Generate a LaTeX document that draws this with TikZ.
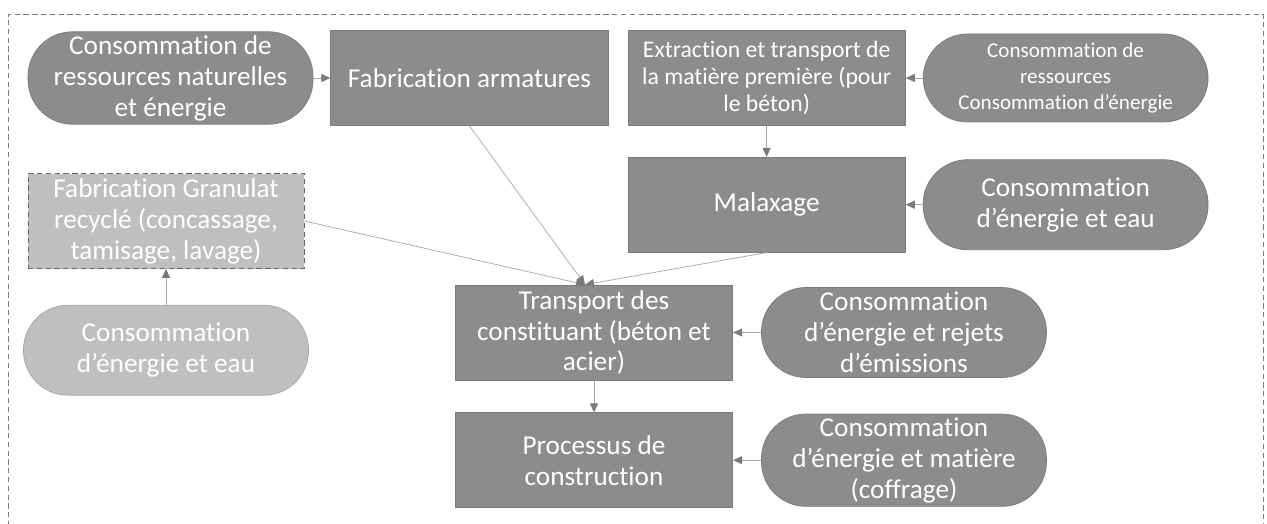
\documentclass[tikz,border=0pt]{standalone}
\usepackage{fontspec}
\setmainfont{Carlito}[RawFeature={-liga;-clig;-calt;-dlig}]
\usepackage{xcolor}
\usepackage{tikz}
\usetikzlibrary{positioning, arrows.meta, calc}
\definecolor{boxgray}{HTML}{8C8C8C}
\definecolor{edgegray}{HTML}{7A7A7A}
\definecolor{pale}{HTML}{BFBFBF}
\definecolor{linegray}{HTML}{A6A6A6}
\tikzset{
  proc/.style={rectangle, draw=edgegray, fill=boxgray, text=white, align=center,
               minimum width=55.5mm, minimum height=19mm, inner sep=2pt,
               font=\fontsize{15.5}{17.6}\selectfont},
  res/.style={rectangle, rounded corners=8.9mm, draw=edgegray, fill=boxgray, text=white,
              align=center, minimum width=57mm, minimum height=18mm, inner sep=2pt,
              font=\fontsize{15.5}{17.6}\selectfont},
  smalltxt/.style={font=\fontsize{13.5}{15.3}\selectfont},
  tinytxt/.style={font=\fontsize{12}{15}\selectfont},
  arr/.style={-{Triangle[length=1.8mm, width=1.6mm, color=edgegray]}, draw=linegray, thin},
}
\begin{document}
\begin{tikzpicture}[node distance=3.4mm]
  \useasboundingbox (0,0) rectangle (25.34,-10.48);
  \draw[edgegray, dash pattern=on 3pt off 2pt] (0.17,-10.7) |- (25.26,-0.28) -- (25.26,-10.7);

  % top row
  \node[res] (natres) at (3.41,-1.56) {Consommation de\\ressources naturelles\\et énergie};
  \node[proc, right=3.4mm of natres] (arm) {Fabrication armatures};
  \node[proc, smalltxt, right=3.8mm of arm] (extract) {Extraction et transport de\\la matière première (pour\\le béton)};
  \node[res, tinytxt, right=3.4mm of extract, minimum height=17.6mm] (rawres) {Consommation de\\ressources\\Consommation d’énergie};

  % concrete mixing
  \node[proc, below=6.2mm of extract] (mix) {Malaxage};
  \node[res, right=3.4mm of mix] (mixres) {Consommation\\d’énergie et eau};

  % recycled aggregate
  \node[proc, fill=pale, draw=black!60, densely dashed, minimum width=55.2mm] (recyc) at (3.32,-4.42)
    {Fabrication Granulat\\recyclé (concassage,\\tamisage, lavage)};
  \node[res, fill=pale, draw=linegray, below=7.2mm of recyc] (recycres) {Consommation\\d’énergie et eau};

  % transport and construction
  \node[proc] (transp) at (11.88,-6.65) {Transport des\\constituant (béton et\\acier)};
  \node[res, right=5.6mm of transp] (transpres) {Consommation\\d’énergie et rejets\\d’émissions};
  \node[proc, below=6.4mm of transp] (build) {Processus de\\construction};
  \node[res, right=5.6mm of build] (buildres) {Consommation\\d’énergie et matière\\(coffrage)};

  \coordinate (tin) at ($(transp.north)+(-0.18,0)$);
  \draw[arr] (natres) -- (arm);
  \draw[arr] (rawres) -- (extract);
  \draw[arr] (extract) -- (mix);
  \draw[arr] (mixres) -- (mix);
  \draw[arr] (recycres) -- (recyc);
  \draw[arr] (arm.south) -- (tin);
  \draw[arr] (recyc.east) -- (tin);
  \draw[arr] (mix.south) -- (tin);
  \draw[arr] (transpres) -- (transp);
  \draw[arr] (transp) -- (build);
  \draw[arr] (buildres) -- (build);
\end{tikzpicture}
\end{document}
